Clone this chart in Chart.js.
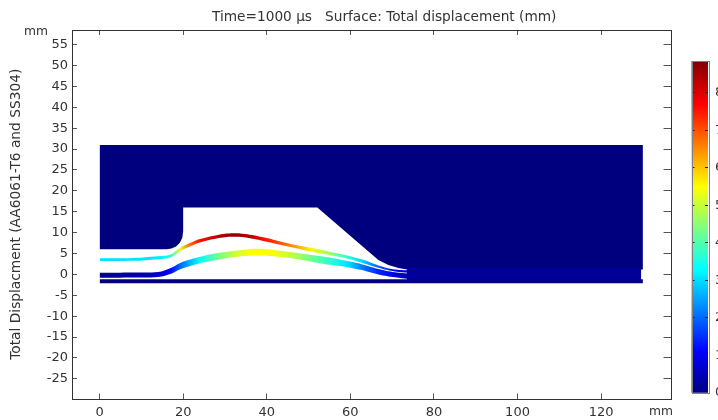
<!DOCTYPE html>
<html>
<head>
<meta charset="utf-8">
<script src="https://cdn.jsdelivr.net/npm/chart.js@4"></script>
<style>
  html, body { margin: 0; padding: 0; background: #fff; overflow: hidden; }
  body { width: 718px; height: 420px; position: relative; }
  canvas { position: absolute; }
  .txt { position: absolute; font: 13px "DejaVu Sans", sans-serif; color: #333; white-space: pre; line-height: 16px; }
</style>
</head>
<body>
<canvas id="main" width="718" height="420" style="left:0;top:0"></canvas>
<canvas id="bar" width="38" height="360" style="left:680px;top:50px"></canvas>
<div class="txt" style="left:212px;top:8px;font-size:13.7px">Time=1000 µs   Surface: Total displacement (mm)</div>
<div class="txt" style="left:24px;top:23px;font-size:12.3px">mm</div>
<div class="txt" style="left:649px;top:403px;font-size:12.3px">mm</div>
<script>
const xTicks = [0, 20, 40, 60, 80, 100, 120];
const yTicks = [-25, -20, -15, -10, -5, 0, 5, 10, 15, 20, 25, 30, 35, 40, 45, 50, 55];
const barTicks = [0, 1, 2, 3, 4, 5, 6, 7, 8];
const barMax = 8.85;
const yTitle = 'Total Displacment (AA6061-T6 and SS304)';

// colour table of the bar: value -> colour
const stopValues = [0, 1.1, 3.3, 5.5, 7.7, 8.85];
const stopColors = [[0, 0, 127], [0, 0, 255], [0, 255, 255], [255, 255, 0], [255, 0, 0], [127, 0, 0]];

// die outline
const dieX = [0, 16, 17.2, 18.3, 19.2, 19.8, 20, 20, 52.1, 66.7, 69.1, 71.5, 73.9, 130];
const dieY = [6, 6, 6.2, 6.7, 7.6, 8.8, 10.4, 16, 16, 3.45, 2.25, 1.55, 1.12, 1.2];
const dieTopX = [0, 130];
const dieTopY = [31, 31];

// bottom plate and the flat part of the sheets
const plateX = [0, 130];
const plateTop = [-1.15, -1.15];
const plateBottom = [-2.1, -2.1];
const flatX = [73.5, 129.6];
const flatTop = [1.6, 1.6];
const flatBottom = [-1.4, -1.4];

// both sheets are read at the same stations
const sheetX = [0, 8, 14, 16.9, 19.3, 21.7, 24, 28, 32, 36, 40, 43.2, 47, 51, 55, 59, 62.7, 66.7, 70.7, 73.9, 76];

const upperTop = [3.85, 3.95, 4.35, 4.75, 6.4, 7.55, 8.45, 9.4, 9.85, 9.5, 8.7, 7.9, 7.05, 6.3, 5.45, 4.6, 3.6, 2.15, 1.15, 1, 1.1];
const upperBottom = [3.2, 3.25, 3.65, 4.05, 5.55, 6.75, 7.65, 8.6, 9, 8.65, 7.8, 7.1, 6.25, 5.35, 4.65, 3.85, 2.8, 1.6, 0.7, 0.4, 0.3];
const upperDisp = [3.05, 3.05, 3.1, 3.6, 5.2, 6.8, 7.6, 8.3, 8.7, 8.3, 7.5, 7, 6.3, 5.4, 4.6, 3.7, 3, 1.9, 1, 0.5, 0.2];

const lowerTop = [0.4, 0.45, 0.6, 1.5, 2.75, 3.55, 4.2, 5.05, 5.6, 6.05, 6.05, 5.65, 5.2, 4.6, 4.05, 3.25, 2.45, 1.3, 0.5, 0.2, 0.3];
const lowerBottom = [-0.8, -0.75, -0.6, 0.1, 1.25, 2, 2.7, 3.45, 4.1, 4.45, 4.45, 4.15, 3.7, 3, 2.3, 1.8, 1.05, 0, -0.7, -1.1, -1.15];
const lowerDisp = [0.2, 0.3, 0.6, 1.1, 2, 2.7, 3.3, 4.2, 5, 5.5, 5.5, 5.3, 4.8, 4.2, 3.7, 3.1, 2.2, 1.4, 0.8, 0.4, 0.2];

const NAVY = '#00007f';
const FLAT = '#000099';
const AXIS = '#333333';
const TICK = '#555555';

function colorFor(v) {
  let i = 0;
  while (i < stopValues.length - 2 && v > stopValues[i + 1]) i++;
  const t = Math.min(1, Math.max(0, (v - stopValues[i]) / (stopValues[i + 1] - stopValues[i])));
  const a = stopColors[i], b = stopColors[i + 1];
  return `rgb(${a.map((c, k) => Math.round(c + (b[k] - c) * t)).join(',')})`;
}

const pts = (xs, ys) => xs.map((x, i) => ({ x, y: ys[i] }));

// left to right fill that follows the displacement read along a sheet
function sheetFill(xs, disp) {
  return ctx => {
    const sx = ctx.chart.scales.x;
    if (!ctx.chart.chartArea || !sx) return NAVY;
    const x0 = sx.getPixelForValue(xs[0]);
    const x1 = sx.getPixelForValue(xs[xs.length - 1]);
    const g = ctx.chart.ctx.createLinearGradient(x0, 0, x1, 0);
    xs.forEach((x, i) => g.addColorStop((x - xs[0]) / (xs[xs.length - 1] - xs[0]), colorFor(disp[i])));
    return g;
  };
}

const edge = (data, fill, bg, tension) => ({
  data, fill, backgroundColor: bg, showLine: true, borderWidth: 0, pointRadius: 0, tension: tension || 0
});

const frameBox = color => ({
  id: 'frameBox',
  afterDraw(chart) {
    const { ctx, chartArea: a } = chart;
    ctx.save();
    ctx.strokeStyle = color;
    ctx.lineWidth = 1;
    ctx.strokeRect(Math.round(a.left) + 0.5, Math.round(a.top) + 0.5, Math.round(a.width), Math.round(a.height));
    ctx.restore();
  }
});

const frame = (extra, tickLength) => ({
  type: 'linear',
  border: { display: false },
  grid: { drawOnChartArea: false, color: TICK, tickLength: tickLength || -5, z: 1 },
  ...extra
});
const useTicks = list => s => { s.ticks = list.map(value => ({ value })); };
const tickFont = { family: '"DejaVu Sans"', size: 13 };

new Chart(document.getElementById('main'), {
  type: 'scatter',
  data: {
    datasets: [
      edge(pts(flatX, flatTop), { target: '+1' }, FLAT),
      edge(pts(flatX, flatBottom), false, FLAT),
      edge(pts(plateX, plateTop), { target: '+1' }, NAVY),
      edge(pts(plateX, plateBottom), false, NAVY),
      edge(pts(dieX, dieY), { target: '+1' }, NAVY),
      edge(pts(dieTopX, dieTopY), false, NAVY),
      edge(pts(sheetX, lowerTop), { target: '+1' }, sheetFill(sheetX, lowerDisp), 0.4),
      edge(pts(sheetX, lowerBottom), false, NAVY, 0.4),
      edge(pts(sheetX, upperTop), { target: '+1' }, sheetFill(sheetX, upperDisp), 0.4),
      edge(pts(sheetX, upperBottom), false, NAVY, 0.4)
    ]
  },
  plugins: [frameBox(AXIS)],
  options: {
    responsive: false,
    animation: false,
    events: [],
    layout: { padding: { top: 30 } },
    plugins: { legend: { display: false }, tooltip: { enabled: false } },
    scales: {
      x: frame({
        position: 'bottom', min: -6.6, max: 136.6, afterBuildTicks: useTicks(xTicks),
        afterFit: s => { s.height = 21.5; },
        ticks: { color: AXIS, font: tickFont, padding: 11, maxRotation: 0, autoSkip: false }
      }),
      xt: frame({
        position: 'top', min: -6.6, max: 136.6, afterBuildTicks: useTicks(xTicks),
        afterFit: s => { s.height = 0; },
        ticks: { display: false }
      }),
      y: frame({
        position: 'left', min: -29.7, max: 58.5, afterBuildTicks: useTicks(yTicks),
        afterFit: s => { s.width = 72; },
        title: {
          display: true, text: yTitle, color: AXIS,
          font: { family: '"DejaVu Sans"', size: 13.75 }, padding: { top: 7.7, bottom: 0 }
        },
        ticks: { color: AXIS, font: tickFont, padding: 9, autoSkip: false }
      }),
      yr: frame({
        position: 'right', min: -29.7, max: 58.5, afterBuildTicks: useTicks(yTicks),
        afterFit: s => { s.width = 47.5; },
        ticks: { display: false }
      }, -7)
    }
  }
});

// colour bar, its own small chart so it can have its own height
function barFill(ctx) {
  const sy = ctx.chart.scales.y;
  if (!ctx.chart.chartArea || !sy) return NAVY;
  const g = ctx.chart.ctx.createLinearGradient(0, sy.getPixelForValue(0), 0, sy.getPixelForValue(barMax));
  stopValues.forEach(v => g.addColorStop(v / barMax, colorFor(v)));
  return g;
}
const barAxis = (position, width, ticks) => ({
  type: 'linear', position, min: 0, max: barMax, afterBuildTicks: useTicks(barTicks),
  afterFit: s => { s.width = width; s.paddingTop = 0; s.paddingBottom = 0; },
  border: { display: false },
  grid: { drawOnChartArea: false, color: '#222222', tickLength: -3, z: 1 },
  ticks
});

new Chart(document.getElementById('bar'), {
  type: 'bar',
  data: {
    labels: ['disp'],
    datasets: [{ data: [[0, barMax]], backgroundColor: barFill, barPercentage: 1, categoryPercentage: 1 }]
  },
  plugins: [frameBox('#808080')],
  options: {
    responsive: false,
    animation: false,
    events: [],
    layout: { padding: { top: 11, bottom: 17 } },
    plugins: { legend: { display: false }, tooltip: { enabled: false } },
    scales: {
      x: {
        display: true, offset: true, border: { display: false },
        grid: { display: false }, ticks: { display: false },
        afterFit: s => { s.height = 0; }
      },
      y: barAxis('left', 11.5, { display: false }),
      yr: barAxis('right', 10, { color: AXIS, font: tickFont, padding: 10, autoSkip: false })
    }
  }
});
</script>
</body>
</html>
